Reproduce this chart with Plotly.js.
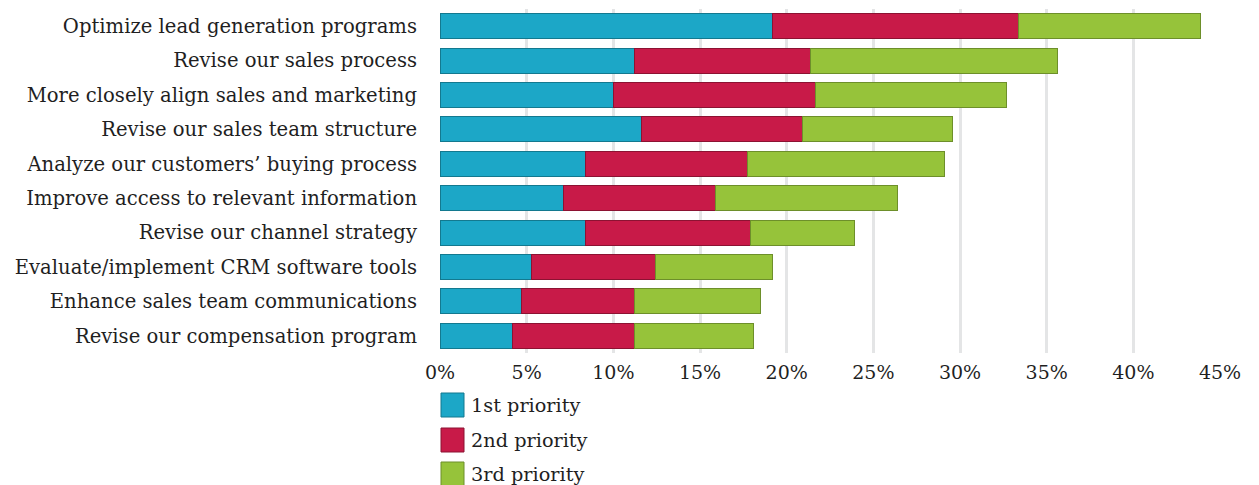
<!DOCTYPE html>
<html>
<head>
<meta charset="utf-8">
<script src="https://cdn.plot.ly/plotly-3.0.1.min.js"></script>
<style>html,body{margin:0;padding:0;background:#fff;}#chart{width:1259px;height:485px;}</style>
</head>
<body>
<div id="chart"></div>
<script>
const categories = [
  "Optimize lead generation programs",
  "Revise our sales process",
  "More closely align sales and marketing",
  "Revise our sales team structure",
  "Analyze our customers’ buying process",
  "Improve access to relevant information",
  "Revise our channel strategy",
  "Evaluate/implement CRM software tools",
  "Enhance sales team communications",
  "Revise our compensation program"
];
const seriesNames = ["1st priority", "2nd priority", "3rd priority"];
const firstPriority  = [19.2, 11.2, 10.0, 11.6, 8.4, 7.1, 8.4, 5.3, 4.7, 4.2];
const secondPriority = [14.15, 10.2, 11.65, 9.3, 9.35, 8.8, 9.5, 7.15, 6.5, 7.0];
const thirdPriority  = [10.5, 14.2, 11.05, 8.65, 11.35, 10.5, 6.0, 6.75, 7.3, 6.9];
const tickValues = [0, 5, 10, 15, 20, 25, 30, 35, 40, 45];
const tickLabels = ["0%", "5%", "10%", "15%", "20%", "25%", "30%", "35%", "40%", "45%"];

const fills = ["#1ca7c7", "#c81a48", "#96c33a"];
const edges = ["#13798f", "#8c1232", "#6d8f2a"];
const values = [firstPriority, secondPriority, thirdPriority];
const FONT = "DejaVu Serif, serif";
const TEXT = "#1f1f1f";

const traces = values.map((v, i) => ({
  type: "bar",
  orientation: "h",
  name: seriesNames[i],
  y: categories,
  x: v,
  marker: { color: fills[i], line: { color: edges[i], width: 1 } },
  showlegend: false,
  hoverinfo: "x+y+name"
}));

const plotLeft = 440, plotRight = 1220, plotTop = 9, plotBottom = 353;
const pw = plotRight - plotLeft, ph = plotBottom - plotTop;
const px = x => (x - plotLeft) / pw;
const py = y => (plotBottom - y) / ph;
const legendRows = [405, 440, 474];
const shapes = [], annotations = [];
seriesNames.forEach((n, i) => {
  const cy = legendRows[i];
  shapes.push({
    type: "rect", xref: "paper", yref: "paper",
    x0: px(441), x1: px(464), y0: py(cy + 12), y1: py(cy - 12),
    fillcolor: fills[i], line: { color: edges[i], width: 1 }
  });
  annotations.push({
    xref: "paper", yref: "paper", x: px(469), y: py(cy),
    xanchor: "left", yanchor: "middle", showarrow: false,
    text: n, font: { family: FONT, size: 19.3, color: TEXT }
  });
});

const layout = {
  width: 1259, height: 485,
  margin: { l: plotLeft, r: 1259 - plotRight, t: plotTop, b: 485 - plotBottom },
  paper_bgcolor: "#ffffff", plot_bgcolor: "#ffffff",
  barmode: "stack",
  bargap: 0.27,
  showlegend: false,
  xaxis: {
    range: [0, 45],
    tickvals: tickValues, ticktext: tickLabels,
    showgrid: true, gridcolor: "#e4e5e6", gridwidth: 3,
    zeroline: false, showline: false, ticks: "",
    ticklabelstandoff: 6,
    tickfont: { family: FONT, size: 19, color: TEXT },
    fixedrange: true
  },
  yaxis: {
    type: "category",
    autorange: "reversed",
    showgrid: false, zeroline: false, showline: false, ticks: "",
    ticklabelstandoff: 22,
    tickfont: { family: FONT, size: 19.6, color: TEXT },
    fixedrange: true
  },
  shapes: shapes,
  annotations: annotations
};

Plotly.newPlot("chart", traces, layout, { displayModeBar: false, staticPlot: true });
</script>
</body>
</html>
